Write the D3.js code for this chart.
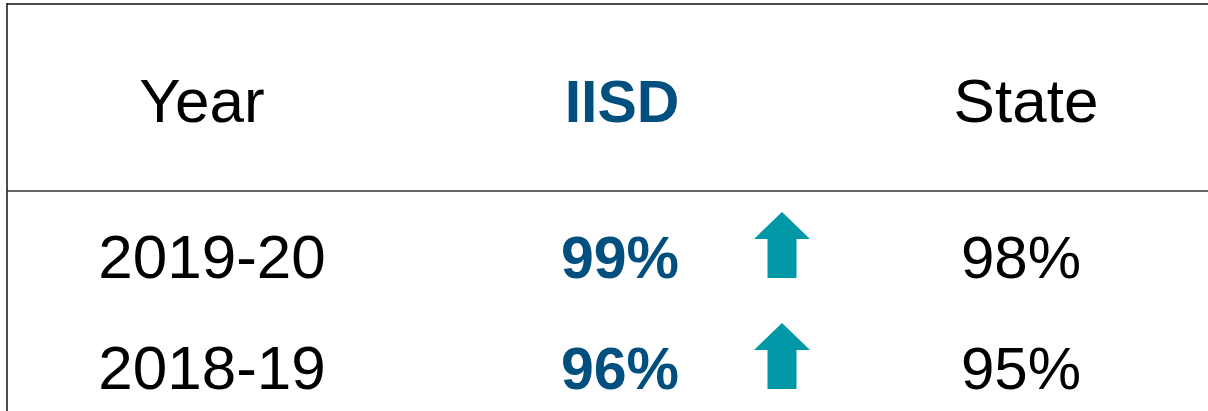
<!DOCTYPE html>
<html>
<head>
<meta charset="utf-8">
<script src="https://cdn.jsdelivr.net/npm/d3@7"></script>
<style>
  body { margin: 0; background: #fff; }
  svg { display: block; font-family: "Liberation Sans", Arial, sans-serif; }
</style>
</head>
<body>
<div id="chart"></div>
<script>
// data
const columns = ["Year", "IISD", "State"]
const years = ["2019-20", "2018-19"]
const iisdValues = [99, 96]
const stateValues = [98, 95]
const trend = ["up", "up"]

const blue = "#004f7e"
const teal = "#0097a7"

const width = 1208, height = 411

const svg = d3.select("#chart").append("svg")
    .attr("width", width)
    .attr("height", height)

// column + row positions
const x = d3.scalePoint().domain(columns).range([210, 1024])
const y = d3.scalePoint().domain(years).range([278, 389])
const headerY = 122
const headShift = { "Year": -8, "IISD": 5, "State": 2 }

// frame lines
svg.append("line")
    .attr("x1", 7).attr("x2", width)
    .attr("y1", 4).attr("y2", 4)
    .attr("stroke", "#111").attr("stroke-width", 1.5)
svg.append("line")
    .attr("x1", 7).attr("x2", 7)
    .attr("y1", 3).attr("y2", height)
    .attr("stroke", "#111").attr("stroke-width", 1.5)
svg.append("line")
    .attr("x1", 7).attr("x2", width)
    .attr("y1", 191).attr("y2", 191)
    .attr("stroke", "#333").attr("stroke-width", 1.5)

// header
svg.selectAll(".head")
    .data(columns)
    .enter().append("text")
    .attr("class", "head")
    .attr("x", d => x(d) + headShift[d])
    .attr("y", headerY)
    .attr("text-anchor", "middle")
    .attr("font-size", d => d === "IISD" ? 59 : 62)
    .attr("font-weight", d => d === "IISD" ? "bold" : "normal")
    .attr("fill", d => d === "IISD" ? blue : "#000")
    .text(d => d)

// rows
const rows = years.map((yr, i) => ({ year: yr, iisd: iisdValues[i], state: stateValues[i], trend: trend[i] }))

const row = svg.selectAll(".row")
    .data(rows)
    .enter().append("g")
    .attr("class", "row")
    .attr("transform", d => `translate(0, ${y(d.year)})`)

row.append("text")
    .attr("x", x("Year") + 2)
    .attr("text-anchor", "middle")
    .attr("font-size", 62)
    .text(d => d.year)

row.append("text")
    .attr("x", x("IISD") + 3)
    .attr("text-anchor", "middle")
    .attr("font-size", 59)
    .attr("font-weight", "bold")
    .attr("fill", blue)
    .text(d => d.iisd + "%")

row.append("text")
    .attr("x", x("State") - 3)
    .attr("text-anchor", "middle")
    .attr("font-size", 60)
    .text(d => d.state + "%")

// trend arrows
const ax = 782
row.filter(d => d.trend === "up").append("path")
    .attr("fill", teal)
    .attr("d", () => {
        const p = d3.path()
        p.moveTo(ax, -66)
        p.lineTo(ax + 28, -39)
        p.lineTo(ax + 14.5, -39)
        p.lineTo(ax + 14.5, 0)
        p.lineTo(ax - 14.5, 0)
        p.lineTo(ax - 14.5, -39)
        p.lineTo(ax - 28, -39)
        p.closePath()
        return p.toString()
    })
</script>
</body>
</html>
